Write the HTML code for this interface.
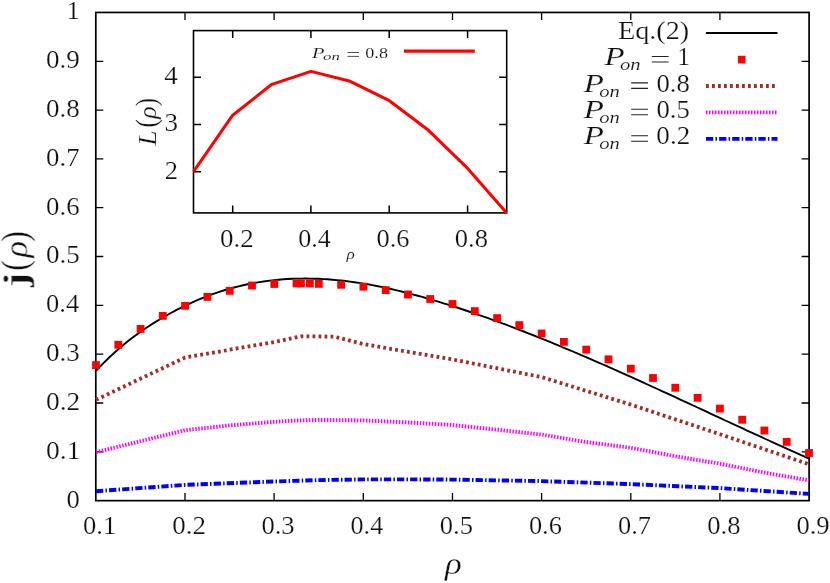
<!DOCTYPE html>
<html><head><meta charset="utf-8"><title>plot</title>
<style>
html,body{margin:0;padding:0;background:#fff;}
svg{display:block;font-family:"Liberation Serif",serif;font-kerning:none;}
text{fill:#111;stroke:#fff;}
</style></head><body>
<svg width="830" height="583" viewBox="0 0 830 583">
<rect width="830" height="583" fill="#fff"/>
<rect x="95.8" y="12.45" width="713.3" height="488.2" fill="none" stroke="#000" stroke-width="1.7"/>
<path d="M95.8,451.8h7.5M809.1,451.8h-7.5M95.8,403.0h7.5M809.1,403.0h-7.5M95.8,354.2h7.5M809.1,354.2h-7.5M95.8,305.3h7.5M809.1,305.3h-7.5M95.8,256.5h7.5M809.1,256.5h-7.5M95.8,207.7h7.5M809.1,207.7h-7.5M95.8,158.9h7.5M809.1,158.9h-7.5M95.8,110.1h7.5M809.1,110.1h-7.5M95.8,61.3h7.5M809.1,61.3h-7.5M185.0,500.6v-7.5M185.0,12.45v7.5M274.1,500.6v-7.5M274.1,12.45v7.5M363.3,500.6v-7.5M363.3,12.45v7.5M452.5,500.6v-7.5M452.5,12.45v7.5M541.6,500.6v-7.5M541.6,12.45v7.5M630.8,500.6v-7.5M630.8,12.45v7.5M719.9,500.6v-7.5M719.9,12.45v7.5" stroke="#000" stroke-width="1.3" fill="none"/>
<polyline points="96.0,491.2 185.1,484.9 274.2,481.5 318.0,480.1 363.3,479.4 414.6,479.4 452.5,479.6 541.6,481.1 630.8,484.1 719.9,488.1 809.0,493.9" fill="none" stroke="#0000ff" stroke-width="3.9" stroke-dasharray="7.3 2.2 1.5 2.1"/>
<polyline points="96.0,452.2 185.1,430.2 229.8,425.4 274.2,421.8 294.0,420.6 318.0,419.9 363.3,420.4 390.5,421.6 414.6,422.8 452.5,425.0 498.2,429.8 541.6,434.6 585.0,441.8 630.8,447.8 675.8,456.3 719.9,463.7 765.0,472.7 809.0,480.4" fill="none" stroke="#ff00ff" stroke-width="3.9" stroke-dasharray="1.5 1.5"/>
<polyline points="96.0,399.8 185.1,357.5 274.2,342.0 301.0,336.3 334.0,336.6 363.4,344.1 452.5,359.4 541.6,377.1 630.8,404.6 719.9,434.2 809.0,464.3" fill="none" stroke="#a52a2a" stroke-width="3.8" stroke-dasharray="2.8 3.2"/>
<polyline points="96.0,370.9 100.5,366.2 104.9,361.7 109.4,357.3 113.8,353.2 118.3,349.2 122.7,345.4 127.2,341.8 131.7,338.3 136.1,335.0 140.6,331.8 145.0,328.7 149.5,325.7 153.9,322.9 158.4,320.2 162.8,317.5 167.3,315.0 171.8,312.5 176.2,310.1 180.7,307.9 185.1,305.7 189.6,303.6 194.0,301.6 198.5,299.6 202.9,297.8 207.4,296.1 211.9,294.4 216.3,292.9 220.8,291.4 225.2,290.0 229.7,288.7 234.1,287.5 238.6,286.3 243.1,285.3 247.5,284.3 252.0,283.4 256.4,282.6 260.9,281.9 265.3,281.2 269.8,280.6 274.2,280.1 278.7,279.7 283.2,279.3 287.6,279.0 292.1,278.8 296.5,278.6 301.0,278.6 305.4,278.5 309.9,278.6 314.4,278.7 318.8,278.8 323.3,279.1 327.7,279.3 332.2,279.7 336.6,280.1 341.1,280.5 345.6,281.0 350.0,281.6 354.5,282.2 358.9,282.9 363.4,283.6 367.8,284.3 372.3,285.1 376.7,286.0 381.2,286.9 385.7,287.8 390.1,288.8 394.6,289.8 399.0,290.9 403.5,292.0 407.9,293.1 412.4,294.3 416.8,295.5 421.3,296.7 425.8,298.0 430.2,299.2 434.7,300.6 439.1,301.9 443.6,303.3 448.0,304.7 452.5,306.1 457.0,307.5 461.4,309.0 465.9,310.5 470.3,312.0 474.8,313.5 479.2,315.1 483.7,316.6 488.2,318.2 492.6,319.8 497.1,321.4 501.5,323.1 506.0,324.7 510.4,326.4 514.9,328.1 519.3,329.8 523.8,331.5 528.3,333.3 532.7,335.0 537.2,336.8 541.6,338.6 546.1,340.4 550.5,342.2 555.0,344.1 559.5,345.9 563.9,347.8 568.4,349.6 572.8,351.5 577.3,353.4 581.7,355.3 586.2,357.2 590.6,359.1 595.1,361.1 599.6,363.0 604.0,365.0 608.5,366.9 612.9,368.9 617.4,370.9 621.8,372.9 626.3,374.9 630.8,376.9 635.2,378.9 639.7,380.9 644.1,382.9 648.6,385.0 653.0,387.0 657.5,389.0 661.9,391.1 666.4,393.1 670.9,395.2 675.3,397.2 679.8,399.3 684.2,401.4 688.7,403.4 693.1,405.5 697.6,407.5 702.1,409.6 706.5,411.7 711.0,413.8 715.4,415.8 719.9,417.9 724.3,420.0 728.8,422.0 733.2,424.1 737.7,426.2 742.2,428.2 746.6,430.3 751.1,432.3 755.5,434.4 760.0,436.4 764.4,438.5 768.9,440.5 773.4,442.6 777.8,444.6 782.3,446.6 786.7,448.6 791.2,450.6 795.6,452.7 800.1,454.7 804.5,456.6 809.0,458.6" fill="none" stroke="#000" stroke-width="1.9"/>
<g fill="#ff0000"><rect x="92.1" y="361.2" width="7.8" height="7.8"/><rect x="114.4" y="340.9" width="7.8" height="7.8"/><rect x="136.7" y="325.0" width="7.8" height="7.8"/><rect x="158.9" y="312.0" width="7.8" height="7.8"/><rect x="181.2" y="301.9" width="7.8" height="7.8"/><rect x="203.5" y="293.0" width="7.8" height="7.8"/><rect x="225.8" y="286.9" width="7.8" height="7.8"/><rect x="248.1" y="281.6" width="7.8" height="7.8"/><rect x="270.4" y="280.1" width="7.8" height="7.8"/><rect x="292.6" y="279.5" width="7.8" height="7.8"/><rect x="297.1" y="279.5" width="7.8" height="7.8"/><rect x="306.0" y="279.5" width="7.8" height="7.8"/><rect x="314.9" y="280.0" width="7.8" height="7.8"/><rect x="337.2" y="280.9" width="7.8" height="7.8"/><rect x="359.5" y="282.8" width="7.8" height="7.8"/><rect x="381.8" y="286.2" width="7.8" height="7.8"/><rect x="404.0" y="290.6" width="7.8" height="7.8"/><rect x="426.3" y="295.1" width="7.8" height="7.8"/><rect x="448.6" y="300.1" width="7.8" height="7.8"/><rect x="470.9" y="307.2" width="7.8" height="7.8"/><rect x="493.2" y="314.2" width="7.8" height="7.8"/><rect x="515.4" y="321.2" width="7.8" height="7.8"/><rect x="537.7" y="329.6" width="7.8" height="7.8"/><rect x="560.0" y="338.0" width="7.8" height="7.8"/><rect x="582.3" y="345.7" width="7.8" height="7.8"/><rect x="604.6" y="355.4" width="7.8" height="7.8"/><rect x="626.9" y="364.8" width="7.8" height="7.8"/><rect x="649.1" y="374.1" width="7.8" height="7.8"/><rect x="671.4" y="383.8" width="7.8" height="7.8"/><rect x="693.7" y="393.9" width="7.8" height="7.8"/><rect x="716.0" y="404.7" width="7.8" height="7.8"/><rect x="738.3" y="415.8" width="7.8" height="7.8"/><rect x="760.5" y="426.6" width="7.8" height="7.8"/><rect x="782.8" y="438.0" width="7.8" height="7.8"/><rect x="805.1" y="449.1" width="7.8" height="7.8"/></g>
<rect x="193.5" y="30.6" width="313.2" height="182.3" fill="#fff" stroke="#000" stroke-width="1.6"/>
<path d="M193.5,77.3h7.5M506.7,77.3h-7.5M193.5,124.6h7.5M506.7,124.6h-7.5M193.5,171.8h7.5M506.7,171.8h-7.5M232.7,212.9v-7.5M232.7,30.6v7.5M310.9,212.9v-7.5M310.9,30.6v7.5M389.2,212.9v-7.5M389.2,30.6v7.5M467.6,212.9v-7.5M467.6,30.6v7.5" stroke="#000" stroke-width="1.5" fill="none"/>
<polyline points="193.5,171.7 232.7,115.2 271.9,84.3 311.0,71.4 350.2,81.3 389.4,100.7 428.5,130.3 467.7,168.4 506.7,213.0" fill="none" stroke="#ff0000" stroke-width="3.0" stroke-linejoin="round"/>
<line x1="404" y1="51.2" x2="474.8" y2="51.2" stroke="#ff0000" stroke-width="3.2"/>
<line x1="706" y1="33.1" x2="777.5" y2="33.1" stroke="#000" stroke-width="2"/>
<rect x="737.9" y="55.8" width="7.6" height="7.6" fill="#ff0000"/>
<line x1="706" y1="86" x2="777.5" y2="86" stroke="#a52a2a" stroke-width="3.8" stroke-dasharray="2.8 3.2"/>
<line x1="706" y1="112.4" x2="777.5" y2="112.4" stroke="#ff00ff" stroke-width="3.9" stroke-dasharray="1.5 1.5"/>
<line x1="706" y1="138.9" x2="777.5" y2="138.9" stroke="#0000ff" stroke-width="3.9" stroke-dasharray="7.3 2.2 1.5 2.1"/>
<g style="opacity:0.999">
<text transform="translate(46.05,458.69) scale(1.101,1.000)" font-size="25px" stroke-width="0.20">0.1</text>
<text transform="translate(46.06,409.87) scale(1.096,1.000)" font-size="25px" stroke-width="0.20">0.2</text>
<text transform="translate(46.07,361.06) scale(1.081,1.000)" font-size="25px" stroke-width="0.20">0.3</text>
<text transform="translate(46.09,312.24) scale(1.060,1.000)" font-size="25px" stroke-width="0.20">0.4</text>
<text transform="translate(46.07,263.42) scale(1.081,1.000)" font-size="25px" stroke-width="0.20">0.5</text>
<text transform="translate(46.08,214.61) scale(1.073,1.000)" font-size="25px" stroke-width="0.20">0.6</text>
<text transform="translate(46.08,165.80) scale(1.072,1.000)" font-size="25px" stroke-width="0.20">0.7</text>
<text transform="translate(46.07,116.98) scale(1.080,1.000)" font-size="25px" stroke-width="0.20">0.8</text>
<text transform="translate(46.07,68.16) scale(1.083,1.000)" font-size="25px" stroke-width="0.20">0.9</text>
<text transform="translate(66.58,507.50) scale(1.066,1.000)" font-size="25px" stroke-width="0.20">0</text>
<text transform="translate(66.45,18.55) scale(1.068,1.000)" font-size="25px" stroke-width="0.20">1</text>
<text transform="translate(83.09,533.80) scale(1.063,1.000)" font-size="25px" stroke-width="0.20">0.1</text>
<text transform="translate(172.24,533.80) scale(1.079,1.000)" font-size="25px" stroke-width="0.20">0.2</text>
<text transform="translate(261.41,533.80) scale(1.064,1.000)" font-size="25px" stroke-width="0.20">0.3</text>
<text transform="translate(350.59,533.80) scale(1.043,1.000)" font-size="25px" stroke-width="0.20">0.4</text>
<text transform="translate(439.74,533.80) scale(1.064,1.000)" font-size="25px" stroke-width="0.20">0.5</text>
<text transform="translate(528.91,533.80) scale(1.056,1.000)" font-size="25px" stroke-width="0.20">0.6</text>
<text transform="translate(618.07,533.80) scale(1.055,1.000)" font-size="25px" stroke-width="0.20">0.7</text>
<text transform="translate(707.23,533.80) scale(1.063,1.000)" font-size="25px" stroke-width="0.20">0.8</text>
<text transform="translate(796.39,533.80) scale(1.066,1.000)" font-size="25px" stroke-width="0.20">0.9</text>
<text transform="translate(164.27,84.00) scale(1.084,1.000)" font-size="25px" stroke-width="0.20">4</text>
<text transform="translate(164.50,131.30) scale(1.085,1.000)" font-size="25px" stroke-width="0.20">3</text>
<text transform="translate(164.64,178.50) scale(1.058,1.000)" font-size="25px" stroke-width="0.20">2</text>
<text transform="translate(219.92,246.70) scale(1.079,1.000)" font-size="25px" stroke-width="0.20">0.2</text>
<text transform="translate(298.26,246.70) scale(1.043,1.000)" font-size="25px" stroke-width="0.20">0.4</text>
<text transform="translate(376.54,246.70) scale(1.056,1.000)" font-size="25px" stroke-width="0.20">0.6</text>
<text transform="translate(454.84,246.70) scale(1.063,1.000)" font-size="25px" stroke-width="0.20">0.8</text>
<text transform="translate(312.11,57.90) scale(1.484,1.000)" font-size="13.8px" stroke-width="0.11" font-style="italic">P</text>
<text transform="translate(323.10,59.60) scale(1.647,1.000)" font-size="10.2px" stroke-width="0.08" font-style="italic">on</text>
<text transform="translate(365.31,57.90) scale(1.296,1.000)" font-size="14px" stroke-width="0.11">0.8</text>
<path d="M347.6,52.5h11.4M347.6,56.4h11.4" stroke="#222" stroke-width="0.8" fill="none"/>
<text transform="translate(346.44,258.90) scale(1.199,1.000)" font-size="14.4px" stroke-width="0.12" font-style="italic">ρ</text>
<text transform="translate(617.89,39.30) scale(1.086,1.000)" font-size="26px" stroke-width="0.21">Eq.(2)</text>
<text transform="translate(604.38,65.20) scale(1.269,1.000)" font-size="26px" stroke-width="0.21" font-style="italic">P</text>
<text transform="translate(619.88,70.10) scale(1.181,1.000)" font-size="17.5px" stroke-width="0.14" font-style="italic">on</text>
<path d="M651.8,56.5h16.8M651.8,62.0h16.8" stroke="#222" stroke-width="1.1" fill="none"/>
<text transform="translate(677.53,65.20) scale(0.950,1.000)" font-size="26px" stroke-width="0.21">1</text>
<text transform="translate(583.78,91.60) scale(1.269,1.000)" font-size="26px" stroke-width="0.21" font-style="italic">P</text>
<text transform="translate(599.28,96.50) scale(1.181,1.000)" font-size="17.5px" stroke-width="0.14" font-style="italic">on</text>
<path d="M631.2,82.9h16.8M631.2,88.4h16.8" stroke="#222" stroke-width="1.1" fill="none"/>
<text transform="translate(656.38,91.60) scale(1.026,1.000)" font-size="26px" stroke-width="0.21">0.8</text>
<text transform="translate(583.78,118.00) scale(1.269,1.000)" font-size="26px" stroke-width="0.21" font-style="italic">P</text>
<text transform="translate(599.28,122.90) scale(1.181,1.000)" font-size="17.5px" stroke-width="0.14" font-style="italic">on</text>
<path d="M631.2,109.3h16.8M631.2,114.8h16.8" stroke="#222" stroke-width="1.1" fill="none"/>
<text transform="translate(656.38,118.00) scale(1.026,1.000)" font-size="26px" stroke-width="0.21">0.5</text>
<text transform="translate(583.78,144.40) scale(1.269,1.000)" font-size="26px" stroke-width="0.21" font-style="italic">P</text>
<text transform="translate(599.28,149.30) scale(1.181,1.000)" font-size="17.5px" stroke-width="0.14" font-style="italic">on</text>
<path d="M631.2,135.7h16.8M631.2,141.2h16.8" stroke="#222" stroke-width="1.1" fill="none"/>
<text transform="translate(656.37,144.40) scale(1.041,1.000)" font-size="26px" stroke-width="0.21">0.2</text>
<text transform="translate(444.99,573.70) scale(1.078,1.000)" font-size="32.4px" stroke-width="0.26" font-style="italic">ρ</text>
<g transform="translate(155.8,0) rotate(-90)"><text transform="translate(-145.78,0.00) scale(1.064,1.000)" font-size="26px" stroke-width="0.21" font-style="italic">L</text><text transform="translate(-127.50,0.00) scale(0.958,1.100)" font-size="26px" stroke-width="0.21">(</text><text transform="translate(-118.64,0.00) scale(1.052,1.000)" font-size="24.6px" stroke-width="0.20" font-style="italic">ρ</text><text transform="translate(-106.20,0.00) scale(0.958,1.100)" font-size="26px" stroke-width="0.21">)</text></g>
<g transform="translate(27.3,0) rotate(-90)"><text transform="translate(-286.95,0.00) scale(1.236,1.000)" font-size="34px" stroke-width="0.27" font-weight="bold">j</text><text transform="translate(-270.80,0.00) scale(0.912,1.100)" font-size="35px" stroke-width="0.28">(</text><text transform="translate(-257.52,0.40) scale(1.046,1.000)" font-size="33px" stroke-width="0.26" font-style="italic">ρ</text><text transform="translate(-241.63,0.00) scale(0.912,1.100)" font-size="35px" stroke-width="0.28">)</text></g>
</g>
</svg>
</body></html>
